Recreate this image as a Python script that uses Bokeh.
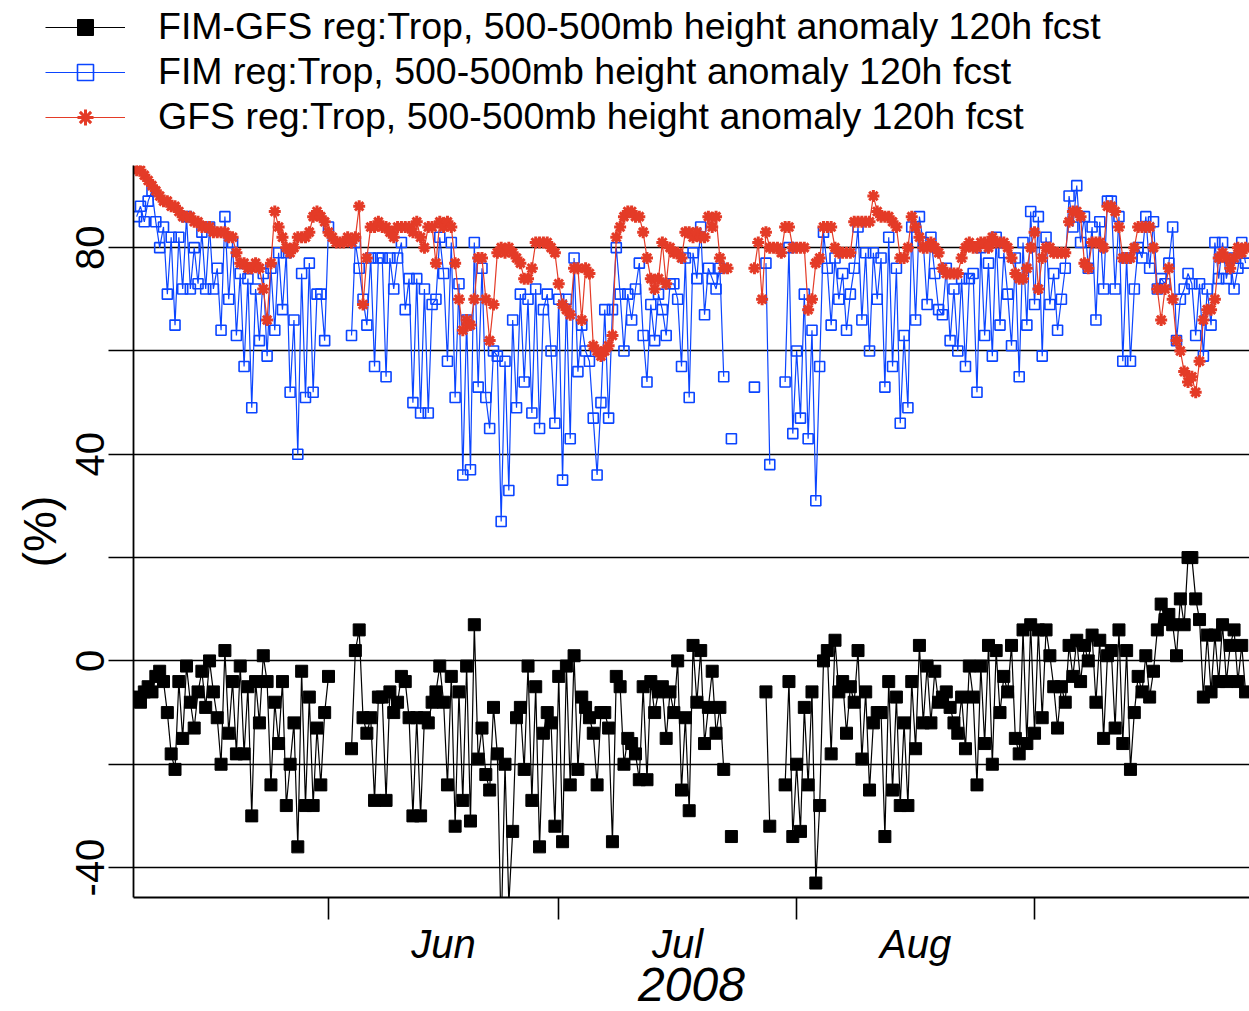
import numpy as np
import pandas as pd
from bokeh.plotting import figure
from bokeh.layouts import column, row
from bokeh.models import (ColumnDataSource, FixedTicker, LinearAxis, CustomJSTickFormatter,
                          Legend, LegendItem, Range1d, Grid)
from bokeh.embed import file_html
from bokeh.resources import INLINE

nan = float("nan")

# ---------------- data (12-hourly, starting 2008-05-07 00Z) ----------------
start_time = "2008-05-07 00:00"
step = "12h"

gfs = [
    95, 95, 94, 93, 92, 91, 90, 89, 89, 88,
    88, 87, 86, 86, 86, 85, 85, 84, 84, 84,
    83, 83, 83, 83, 82, 82, 79, 77, 77, 76,
    76, 77, 76, 72, 66, 77, 87, 84, 82, 80,
    79, 80, 82, 82, 82, 83, 86, 87, 86, 85,
    83, 82, 81, 81, 81, 82, 81, 82, 88, 69,
    78, 84, 84, 85, 84, 84, 83, 82, 84, 84,
    84, 84, 83, 85, 82, 80, 84, 84, 77, 85,
    84, 85, 84, 77, 70, 64, 66, 65, 70, 78,
    78, 70, 62, 69, 79, 80, 79, 80, 79, 78,
    77, 74, 74, 76, 81, 81, 81, 81, 80, 79,
    73, 69, 68, 67, 76, 76, 66, 76, 75, 61,
    60, 59, 60, 61, 63, 82, 84, 86, 87, 87,
    86, 86, 83, 78, 74, 72, 74, 81, 73, 80,
    79, 79, 78, 83, 83, 82, 83, 82, 82, 86,
    84, 86, 78, 76, 76, nan, nan, nan, nan, nan,
    nan, 76, 81, 70, 83, 80, 80, 80, 79, 84,
    84, 80, 80, 80, 80, 68, 70, 77, 78, 84,
    84, 84, 80, 79, 79, 79, 79, 85, 85, 85,
    85, 85, 90, 87, 86, 86, 86, 85, 84, 78,
    78, 80, 86, 84, 82, 80, 80, 81, 80, 79,
    76, 75, 75, 75, 75, 78, 80, 81, 80, 80,
    81, 81, 80, 82, 81, 81, 81, 80, 78, 75,
    74, 74, 76, 80, 83, 72, 78, 80, 80, 79,
    79, 79, 79, 85, 87, 87, 86, 77, 76, 81,
    81, 81, 80, 88, 88, 87, 84, 78, 78, 78,
    80, 84, 84, 84, 84, 80, 72, 66, 72, 76,
    70, 62, 60, 56, 54, 55, 52, 58, 66, 68,
    68, 70, 78, 79, 78, 76, 78, 80, 79, 80,
]

fim = [
    86, 88, 85, 89, 91, 85, 80, 84, 71, 82,
    65, 82, 72, 86, 72, 80, 73, 83, 72, 84,
    72, 76, 64, 86, 70, 81, 63, 75, 57, 74,
    49, 72, 62, 75, 59, 76, 64, 79, 68, 79,
    52, 66, 40, 75, 51, 77, 52, 71, 71, 62,
    84, nan, nan, nan, nan, nan, 63, 81, 76, 70,
    65, 78, 57, 78, 78, 55, 78, 72, 78, 81,
    68, 74, 50, 74, 48, 72, 48, 69, 70, 82,
    75, 58, 81, 51, 73, 36, 66, 37, 81, 53,
    76, 51, 45, 60, 59, 27, 58, 33, 66, 49,
    71, 54, 70, 48, 72, 45, 68, 71, 60, 46,
    70, 35, 70, 43, 78, 56, 65, 60, 58, 47,
    36, 50, 68, 47, 68, 80, 71, 60, 71, 66,
    72, 77, 63, 54, 69, 62, 71, 68, 63, 73,
    73, 70, 57, 78, 51, 79, 74, 84, 67, 76,
    74, 72, 76, 55, nan, 43, nan, nan, nan, nan,
    nan, 53, nan, nan, 77, 38, nan, nan, nan, 54,
    80, 44, 60, 47, 71, 43, 64, 31, 57, 83,
    76, 65, 78, 70, 75, 64, 71, 76, 84, 66,
    79, 60, 79, 70, 78, 53, 82, 57, 76, 46,
    63, 49, 84, 66, 86, 81, 69, 82, 75, 68,
    67, 76, 62, 72, 60, 74, 57, 74, 75, 52,
    80, 63, 77, 59, 82, 65, 79, 71, 61, 78,
    55, 81, 65, 87, 69, 86, 59, 82, 69, 75,
    64, 70, 76, 90, 84, 92, 81, 86, 76, 84,
    66, 85, 72, 89, 89, 72, 86, 58, 78, 58,
    72, 80, 78, 86, 76, 85, 72, 74, 73, 77,
    84, 62, 70, 72, 75, 73, 63, 73, 59, 72,
    65, 81, 74, 81, 74, 78, 72, 76, 81, 77,
]

diff = [
    -7, -8, -6, -5, -6, -3, -2, -4, -10, -18,
    -21, -4, -15, -1, -8, -13, -6, -2, -9, 0,
    -6, -11, -20, 2, -14, -4, -18, -1, -18, -5,
    -30, -4, -12, 1, -4, -24, -8, -16, -4, -28,
    -20, -12, -36, -2, -28, -7, -28, -13, -24, -10,
    -3, nan, nan, nan, nan, nan, -17, 2, 6, -11,
    -14, -11, -27, -7, -7, -27, -6, -10, -8, -3,
    -4, -11, -30, -11, -30, -11, -12, -8, -6, -1,
    -8, -24, -3, -32, -6, -27, -1, -31, 7, -19,
    -13, -22, -25, -9, -18, -53, -20, -47, -33, -11,
    -9, -21, -1, -27, -5, -36, -14, -10, -12, -32,
    -3, -35, -1, -24, 1, -21, -7, -9, -11, -14,
    -24, -10, -10, -13, -35, -3, -5, -20, -15, -16,
    -18, -23, -5, -23, -4, -10, -6, -5, -15, -6,
    -10, 0, -25, -11, -29, 3, -8, 2, -16, -9,
    -2, -14, -9, -21, nan, -34, nan, nan, nan, nan,
    nan, nan, nan, nan, -6, -32, nan, nan, nan, -24,
    -4, -34, -20, -33, -9, -24, -6, -43, -28, 0,
    2, -18, 4, -6, -4, -14, -5, -8, 2, -19,
    -6, -25, -12, -10, -10, -34, -4, -25, -7, -28,
    -12, -28, -4, -17, 3, -12, -1, -12, -2, -8,
    -7, -6, -9, -12, -14, -7, -17, -1, -7, -24,
    -1, -16, 3, -20, 2, -10, -3, -6, 3, -15,
    -18, 6, -16, 7, -14, 6, -11, 6, 1, -5,
    -13, -5, -8, 3, -3, 4, -4, 3, 0, 5,
    -8, 4, -15, 1, 2, -13, 6, -16, 2, -21,
    -10, -3, -6, 1, -7, -2, 6, 11, 8, 9,
    7, 1, 12, 7, 20, 20, 12, 8, -7, 5,
    -6, 5, -4, 7, -4, 3, 6, -4, 3, -6,
]

series_labels = [
    "FIM-GFS reg:Trop, 500-500mb height anomaly 120h fcst",
    "FIM reg:Trop, 500-500mb height anomaly 120h fcst",
    "GFS reg:Trop, 500-500mb height anomaly 120h fcst",
]
month_starts = ["2008-06-01", "2008-07-01", "2008-08-01", "2008-09-01"]
month_mids = ["2008-06-16 00:00", "2008-07-16 12:00", "2008-08-16 12:00"]
month_names = ["Jun", "Jul", "Aug"]
year_label = "2008"
y_ticks = [-40, -20, 0, 20, 40, 60, 80]
y_label = "(%)"
x_start = "2008-05-06 14:10"
x_end = "2008-09-29 00:15"
y_min, y_max = -45.8, 95.9

# ---------------- build ----------------
def to_ms(s):
    return pd.Timestamp(s).value / 1e6

times = pd.date_range(start_time, periods=len(gfs), freq=step)
t_ms = times.asi8 / 1e6

src = ColumnDataSource(dict(
    t=t_ms,
    gfs=np.array(gfs, dtype=float),
    fim=np.array(fim, dtype=float),
    diff=np.array(diff, dtype=float),
))

FONT = "Liberation Sans"
BLUE = "#0b45ff"
RED = "#e43b27"

STY = dict(
    diff_line=dict(line_color="black", line_width=1.2),
    diff_mark=dict(marker="square", size=12, fill_color="black", line_color="black"),
    fim_line=dict(line_color=BLUE, line_width=1.2),
    fim_mark=dict(marker="square", size=10, fill_color=None, line_color=BLUE, line_width=1.6),
    gfs_line=dict(line_color=RED, line_width=1.2),
    gfs_mark=dict(marker="asterisk", size=12, line_color=RED, line_width=3),
)

# ---- legend strip on top (its own small plot; sample glyphs hold one empty point) ----
TOP_H = 165
pl = figure(width=1249, height=TOP_H, output_backend="svg", toolbar_location=None,
            x_axis_type=None, y_axis_type=None, x_range=Range1d(0, 1), y_range=Range1d(0, 1),
            min_border_left=0, min_border_right=0, min_border_top=0, min_border_bottom=0)
pl.outline_line_color = None
pl.xgrid.visible = False
pl.ygrid.visible = False
leg_src = ColumnDataSource(dict(x=[nan], y=[nan]))
lr = []
for key in ("diff", "fim", "gfs"):
    a = pl.line("x", "y", source=leg_src, **STY[key + "_line"])
    b = pl.scatter("x", "y", source=leg_src, **STY[key + "_mark"])
    lr.append([a, b])
legend = Legend(items=[LegendItem(label=series_labels[i], renderers=lr[i]) for i in range(3)],
                location=(45, 27), orientation="vertical",
                glyph_width=80, glyph_height=40, label_height=40, label_standoff=33, spacing=2,
                padding=0, margin=0, border_line_color=None, background_fill_alpha=0,
                label_text_font=FONT, label_text_font_size="37.5px", label_text_color="black")
pl.add_layout(legend)

# ---- main chart ----
p = figure(width=1249, height=1011 - TOP_H, output_backend="svg", toolbar_location=None,
           x_axis_type=None, y_axis_type=None,
           x_range=Range1d(to_ms(x_start), to_ms(x_end)),
           y_range=Range1d(y_min, y_max),
           min_border_left=133, min_border_right=0, min_border_top=0, min_border_bottom=114)
p.outline_line_color = None

yticker = FixedTicker(ticks=y_ticks)
p.add_layout(Grid(dimension=1, ticker=yticker, grid_line_color="black", grid_line_width=1.6))

yaxis = LinearAxis(ticker=yticker,
                   formatter=CustomJSTickFormatter(code="return (Math.abs(tick) % 40 == 0) ? tick.toFixed(0) : '';"),
                   major_label_orientation="vertical",
                   major_tick_out=25, major_tick_in=0, major_tick_line_width=1.6,
                   minor_tick_line_color=None, axis_line_width=1.8,
                   major_label_text_font=FONT, major_label_text_font_size="40px",
                   major_label_text_color="black", major_label_standoff=4,
                   axis_label=y_label, axis_label_text_font=FONT, axis_label_text_font_size="46px",
                   axis_label_text_color="black",
                   axis_label_text_font_style="normal", axis_label_standoff=8)
p.add_layout(yaxis, "left")

xaxis1 = LinearAxis(ticker=FixedTicker(ticks=[to_ms(m) for m in month_starts]),
                    formatter=CustomJSTickFormatter(code="return '';"),
                    major_tick_out=22, major_tick_in=0, major_tick_line_width=1.6,
                    minor_tick_line_color=None, axis_line_width=1.8,
                    major_label_text_font_size="0px", major_label_standoff=0)
p.add_layout(xaxis1, "below")

mids = [to_ms(m) for m in month_mids]
xaxis2 = LinearAxis(ticker=FixedTicker(ticks=mids),
                    formatter=CustomJSTickFormatter(args=dict(mids=mids, names=month_names),
                                                    code="const i = mids.indexOf(tick); return i >= 0 ? names[i] : '';"),
                    axis_line_color=None, major_tick_line_color=None, minor_tick_line_color=None,
                    major_tick_out=0, major_tick_in=0,
                    major_label_text_font=FONT, major_label_text_font_size="40px",
                    major_label_text_color="black",
                    major_label_text_font_style="italic", major_label_standoff=2,
                    axis_label=year_label, axis_label_text_font=FONT, axis_label_text_font_size="48px",
                    axis_label_text_color="black",
                    axis_label_text_font_style="italic", axis_label_standoff=-1)
p.add_layout(xaxis2, "below")

p.line("t", "diff", source=src, **STY["diff_line"])
p.scatter("t", "diff", source=src, **STY["diff_mark"])
p.line("t", "fim", source=src, **STY["fim_line"])
p.scatter("t", "fim", source=src, **STY["fim_mark"])
p.line("t", "gfs", source=src, **STY["gfs_line"])
p.scatter("t", "gfs", source=src, **STY["gfs_mark"])

layout = column(row(pl), p, spacing=0)
open("out.html", "w").write(file_html(layout, INLINE))
